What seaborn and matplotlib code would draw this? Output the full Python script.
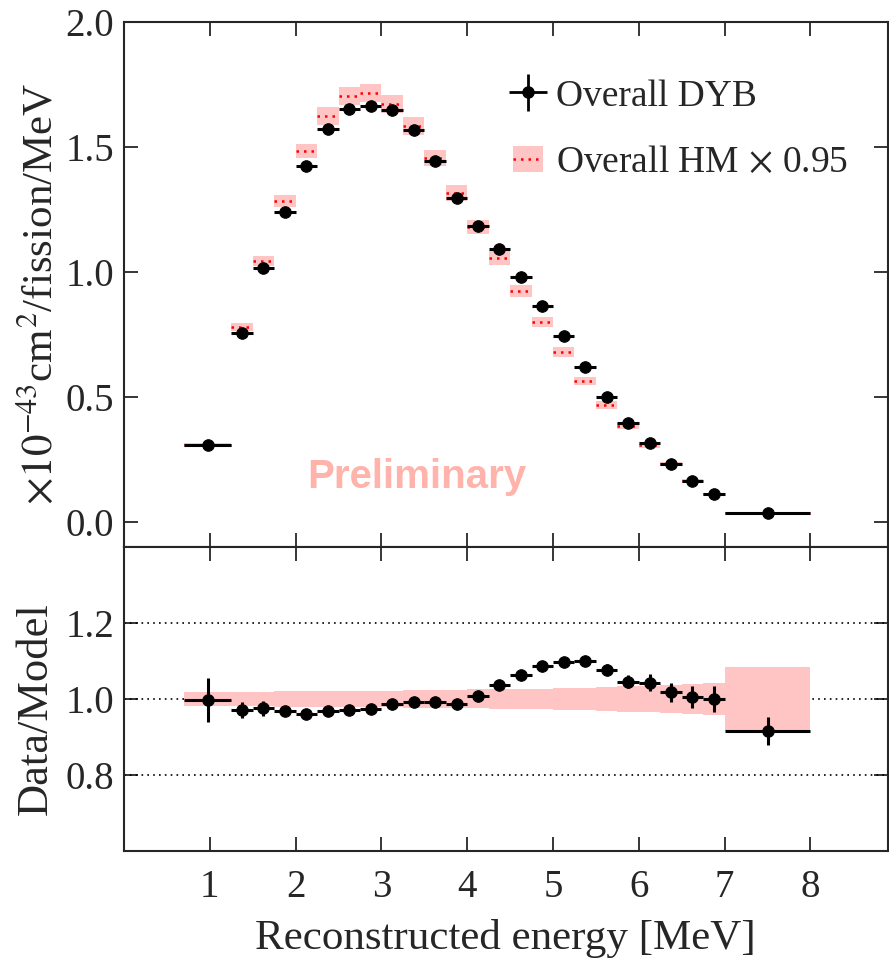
import numpy as np
import matplotlib
matplotlib.use("Agg")
import matplotlib.pyplot as plt
from matplotlib.patches import Patch
from matplotlib.lines import Line2D
import seaborn as sns

# bin edges [MeV]
edges = [0.7, 1.25, 1.5, 1.75, 2.0, 2.25, 2.5, 2.75, 3.0, 3.25, 3.5, 3.75, 4.0,
         4.25, 4.5, 4.75, 5.0, 5.25, 5.5, 5.75, 6.0, 6.25, 6.5, 6.75, 7.0, 8.0]

# Overall DYB spectrum (x1e-43 cm2/fission/MeV)
dyb = [0.31, 0.756, 1.016, 1.24, 1.424, 1.572, 1.652, 1.664, 1.648, 1.568, 1.444,
       1.296, 1.184, 1.092, 0.98, 0.864, 0.744, 0.62, 0.50, 0.396, 0.316, 0.232,
       0.164, 0.112, 0.036]

# Overall HM x 0.95
hm = [0.31, 0.78, 1.044, 1.284, 1.484, 1.624, 1.704, 1.716, 1.672, 1.584, 1.456,
      1.316, 1.18, 1.056, 0.924, 0.80, 0.68, 0.564, 0.468, 0.384, 0.308, 0.232,
      0.164, 0.112, 0.036]

# Data / Model ratio and its error
ratio = [0.998, 0.971, 0.975, 0.968, 0.961, 0.969, 0.970, 0.973, 0.988, 0.992, 0.992,
         0.988, 1.009, 1.038, 1.064, 1.088, 1.098, 1.100, 1.077, 1.046, 1.043, 1.018,
         1.005, 0.999, 0.916]
ratio_err = [0.058, 0.022, 0.020, 0.012, 0.010, 0.008, 0.008, 0.008, 0.008, 0.008, 0.008,
             0.009, 0.009, 0.010, 0.010, 0.010, 0.012, 0.013, 0.015, 0.018, 0.022, 0.025,
             0.030, 0.034, 0.036]

# relative model uncertainty
model_err = [0.018, 0.019, 0.019, 0.020, 0.020, 0.021, 0.021, 0.022, 0.022, 0.023, 0.023,
             0.024, 0.025, 0.026, 0.026, 0.027, 0.028, 0.030, 0.031, 0.033, 0.035, 0.037,
             0.039, 0.041, 0.083]

edges = np.array(edges)
lo, hi = edges[:-1], edges[1:]
xc = (lo + hi) / 2
xe = (hi - lo) / 2
dyb = np.array(dyb); hm = np.array(hm)
ratio = np.array(ratio); ratio_err = np.array(ratio_err); model_err = np.array(model_err)

sns.set_style("ticks")
plt.rcParams['font.family'] = ['Liberation Serif', 'DejaVu Serif']
plt.rcParams['mathtext.fontset'] = 'stix'
plt.rcParams['font.size'] = 28

fig = plt.figure(figsize=(8.89, 9.61), dpi=100)
ax1 = fig.add_axes([0.1395, 0.4308, 0.859, 0.5463])
ax2 = fig.add_axes([0.1395, 0.1145, 0.859, 0.3163], sharex=ax1)

pink = '#ffc4c4'

# --- top panel ---
band_lo = np.append(hm * (1 - model_err), 0)
band_hi = np.append(hm * (1 + model_err), 0)
ax1.fill_between(edges, band_lo, band_hi, step='post', color=pink, lw=0)
ax1.hlines(hm, lo, hi, colors='red', linestyles=(0, (1, 2)), lw=1.8)
ax1.errorbar(xc, dyb, xerr=xe, yerr=dyb * ratio_err, fmt='none', ecolor='black',
             elinewidth=2.2, capsize=0)
sns.scatterplot(x=xc, y=dyb, ax=ax1, color='black', s=70, edgecolor='black', zorder=5)

ax1.text(3.41, 0.18, "Preliminary", fontsize=29, fontweight='bold', color='#ffb3ab',
         family=['Liberation Sans'], ha='center', va='center')

h_dyb = ax1.errorbar([], [], xerr=[], yerr=[], fmt='o', color='black', ms=8,
                     elinewidth=2)
h_hm = (Patch(color=pink, lw=0), Line2D([], [], color='red', ls=(0, (1, 2)), lw=1.8))
ax1.legend([h_dyb, h_hm], ["Overall DYB", r"Overall HM$\,\times\,$0.95"],
           loc='upper left', bbox_to_anchor=(0.49, 0.92), frameon=False,
           handlelength=0.8, fontsize=27, labelspacing=0.85, handletextpad=0.33,
           borderaxespad=0)

ax1.set_ylim(-0.1, 2.0)
ax1.set_yticks([0.0, 0.5, 1.0, 1.5, 2.0])
ax1.set_ylabel(r"$\times10^{-43}$cm$^{2}$/fission/MeV", fontsize=31)
ax1.yaxis.set_label_coords(-0.082, 0.482)
ax1.tick_params(labelbottom=False)

# --- bottom panel ---
for yv in [0.8, 1.0, 1.2]:
    ax2.axhline(yv, color='black', ls=(0, (1, 2.5)), lw=1.2, zorder=1)
ax2.fill_between(edges, np.append(1 - model_err, 1 - model_err[-1]),
                 np.append(1 + model_err, 1 + model_err[-1]), step='post',
                 color=pink, lw=0, zorder=2)
ax2.errorbar(xc, ratio, xerr=xe, yerr=ratio_err, fmt='none', ecolor='black',
             elinewidth=2.2, capsize=0, zorder=4)
sns.scatterplot(x=xc, y=ratio, ax=ax2, color='black', s=70, edgecolor='black', zorder=5)

ax2.set_ylim(0.6, 1.4)
ax2.set_yticks([0.8, 1.0, 1.2])
ax2.set_ylabel("Data/Model", fontsize=32)
ax2.yaxis.set_label_coords(-0.09, 0.467)
ax2.set_xlabel("Reconstructed energy [MeV]", fontsize=31, labelpad=9)
ax2.set_xlim(0, 8.9)
ax2.set_xticks([1, 2, 3, 4, 5, 6, 7, 8])

for ax in (ax1, ax2):
    ax.tick_params(direction='in', top=True, right=True, length=10, width=1.3,
                   labelsize=28, pad=7)
    for s in ax.spines.values():
        s.set_linewidth(1.5)
ax2.tick_params(axis='x', pad=13)

fig.savefig("out.png", dpi=100)
